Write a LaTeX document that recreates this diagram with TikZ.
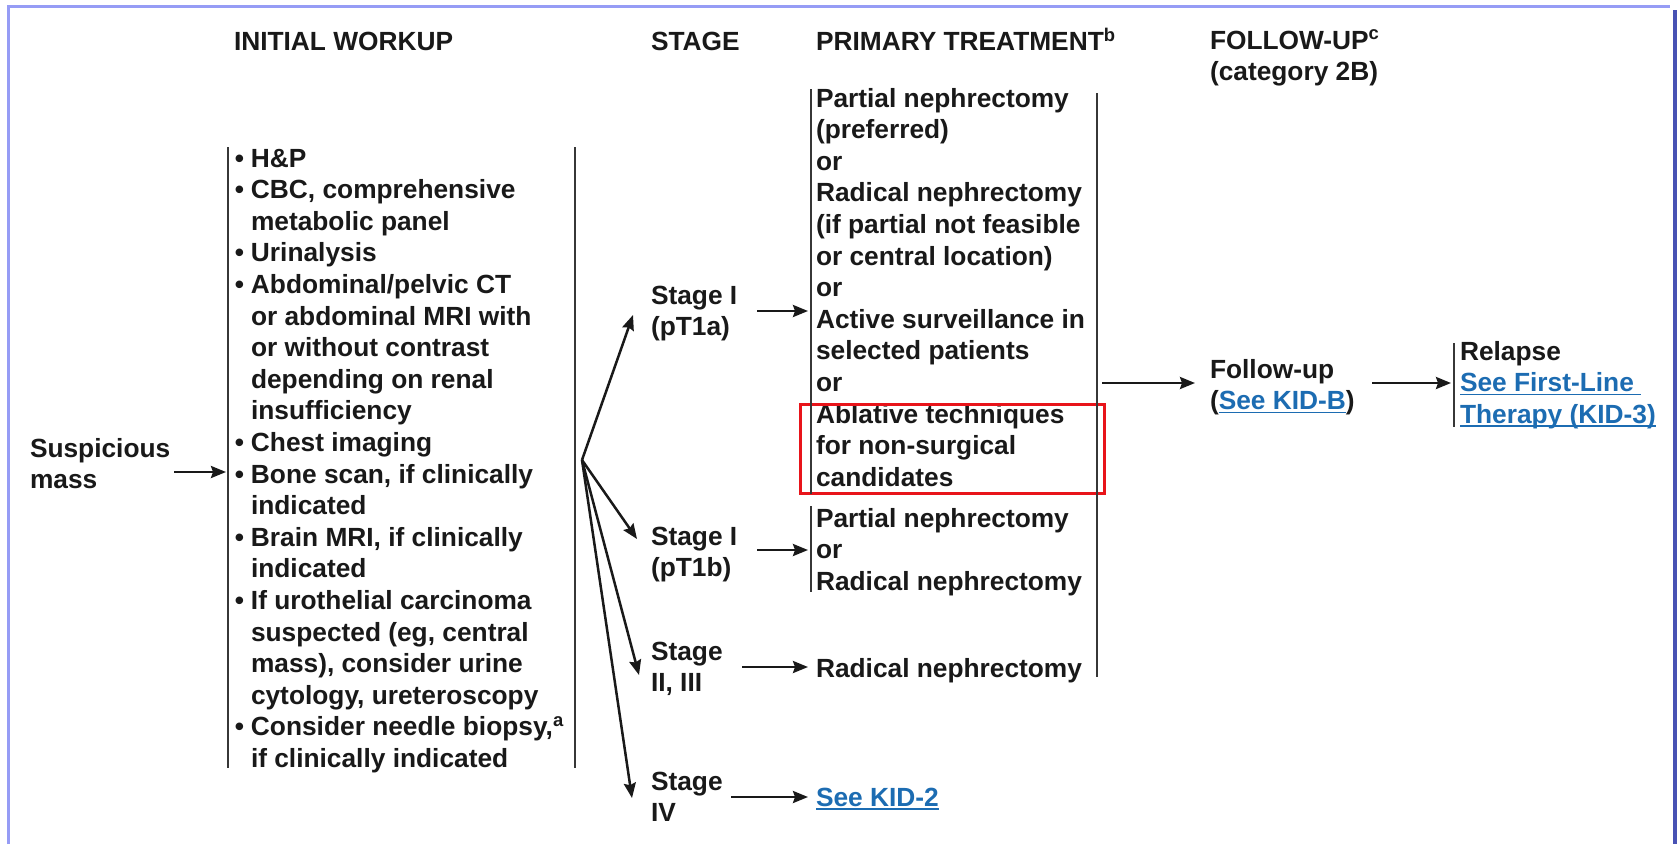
\documentclass[tikz,border=0pt]{standalone}
\usepackage{fontspec}
\setmainfont{Liberation Sans}
\usetikzlibrary{arrows.meta}
\definecolor{linkblue}{RGB}{28,108,178}
\definecolor{framelight}{RGB}{150,156,245}
\definecolor{framedark}{RGB}{72,82,180}
\definecolor{barcol}{RGB}{55,55,55}
\definecolor{boxred}{RGB}{232,20,26}
\newcommand{\lnk}[1]{\textcolor{linkblue}{\setbox0=\hbox{#1}\rlap{\rule[-3.5pt]{\wd0}{1.6pt}}\box0}}
\newcommand{\bul}{\llap{\textbullet\hspace{7pt}}}
\begin{document}
\begin{tikzpicture}[x=1pt,y=-1pt,
  txt/.style={font=\fontsize{26.3}{31.6}\selectfont\bfseries, text=black!90, inner sep=0pt, outer sep=0pt, align=left, anchor=north west, yshift=22.12pt},
  bar/.style={line width=2pt, draw=barcol},
  arr/.style={line width=2.5pt, draw=black!90, -{Stealth[length=15pt,width=12pt,inset=2pt]}},
]
\useasboundingbox (0,0) rectangle (1677,844);
\fill[white] (0,0) rectangle (1677,844);
% frame
\draw[framelight, line width=3pt] (8,844) -- (8,6) -- (1670,6);
\draw[framedark, line width=3.5pt] (1675,10) -- (1675,844);

% headers
\node[txt] (hw) at (234,50) {\strut INITIAL WORKUP};
\node[txt] (hs) at (651,50) {\strut STAGE};
\node[txt] (hp) at (816,50) {\strut PRIMARY TREATMENT\textsuperscript{b}};
\node[txt] (hf) at (1210,49) {\strut FOLLOW-UP\textsuperscript{c}\\(category 2B)};

% start
\node[txt] (sm) at (30,457) {\strut Suspicious\\mass};

% workup
\node[txt] (wk) at (251,167) {\strut\bul H\&P\\\bul CBC, comprehensive\\metabolic panel\\\bul Urinalysis\\\bul Abdominal/pelvic CT\\or abdominal MRI with\\or without contrast\\depending on renal\\insufficiency\\\bul Chest imaging\\\bul Bone scan, if clinically\\indicated\\\bul Brain MRI, if clinically\\indicated\\\bul If urothelial carcinoma\\suspected (eg, central\\mass), consider urine\\cytology, ureteroscopy\\\bul Consider needle biopsy,\textsuperscript{a}\\if clinically indicated};

% stages
\node[txt] (s1a) at (651,304) {\strut Stage I\\(pT1a)};
\node[txt] (s1b) at (651,545) {\strut Stage I\\(pT1b)};
\node[txt] (s2) at (651,660) {\strut Stage\\II, III};
\node[txt] (s4) at (651,790) {\strut Stage\\IV};

% treatments
\node[txt] (t1a) at (816,107) {\strut Partial nephrectomy\\(preferred)\\or\\Radical nephrectomy\\(if partial not feasible\\or central location)\\or\\Active surveillance in\\selected patients\\or\\Ablative techniques\\for non-surgical\\candidates};
\node[txt] (t1b) at (816,527) {\strut Partial nephrectomy\\or\\Radical nephrectomy};
\node[txt] (t2) at (816,677) {\strut Radical nephrectomy};
\node[txt] (t4) at (816,806) {\strut\lnk{See KID-2}};

% follow-up and relapse
\node[txt] (fu) at (1210,378) {\strut Follow-up\\(\lnk{See KID-B})};
\node[txt] (rl) at (1460,360) {\strut Relapse\\\lnk{See First-Line\ }\\\lnk{Therapy (KID-3)}};

% red highlight
\draw[boxred, line width=3pt] (800,404) rectangle (1104,493);

% bars
\coordinate (wkL1) at (228,147); \coordinate (wkL2) at (228,768);
\coordinate (wkR1) at (575,147); \coordinate (wkR2) at (575,768);
\coordinate (taL1) at (811,89);  \coordinate (taL2) at (811,494);
\coordinate (tbL1) at (811,506); \coordinate (tbL2) at (811,592);
\coordinate (tR1) at (1097,93);  \coordinate (tR2) at (1097,677);
\coordinate (rL1) at (1454,343); \coordinate (rL2) at (1454,427);
\draw[bar] (wkL1) -- (wkL2);
\draw[bar] (wkR1) -- (wkR2);
\draw[bar] (taL1) -- (taL2);
\draw[bar] (tbL1) -- (tbL2);
\draw[bar] (tR1) -- (tR2);
\draw[bar] (rL1) -- (rL2);

% connectors
\coordinate (smE) at (174,472); \coordinate (wkIn) at (226,472);
\draw[arr] (smE) -- (wkIn);
\coordinate (fan) at (582,460);
\coordinate (s1aIn) at (633,315);
\coordinate (s1bIn) at (637,539);
\coordinate (s2In) at (639,675);
\coordinate (s4In) at (632,798);
\draw[arr] (fan) -- (s1aIn);
\draw[arr] (fan) -- (s1bIn);
\draw[arr] (fan) -- (s2In);
\draw[arr] (fan) -- (s4In);
\coordinate (s1aE) at (757,311); \coordinate (t1aIn) at (808,311);
\coordinate (s1bE) at (757,550); \coordinate (t1bIn) at (808,550);
\coordinate (s2E) at (742,667);  \coordinate (t2In) at (808,667);
\coordinate (s4E) at (731,797);  \coordinate (t4In) at (808,797);
\draw[arr] (s1aE) -- (t1aIn);
\draw[arr] (s1bE) -- (t1bIn);
\draw[arr] (s2E) -- (t2In);
\draw[arr] (s4E) -- (t4In);
\coordinate (tE) at (1102,383); \coordinate (fuIn) at (1195,383);
\coordinate (fuE) at (1372,383); \coordinate (rlIn) at (1451,383);
\draw[arr] (tE) -- (fuIn);
\draw[arr] (fuE) -- (rlIn);
\end{tikzpicture}
\end{document}
